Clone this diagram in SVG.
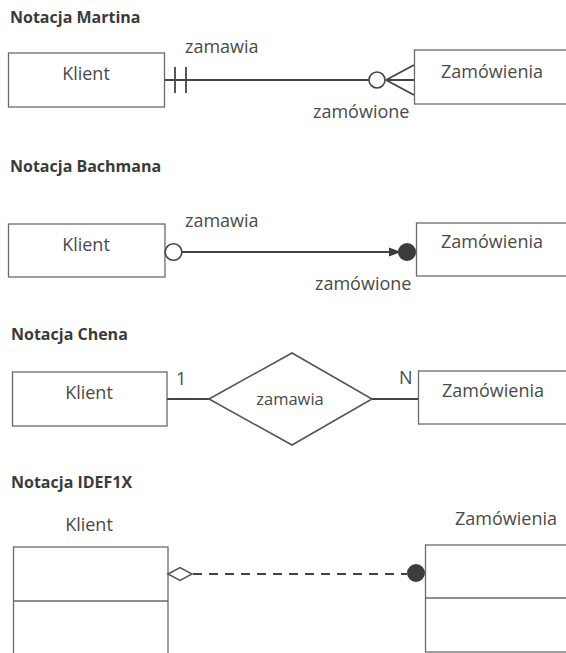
<svg xmlns="http://www.w3.org/2000/svg" width="566" height="653" viewBox="0 0 566 653">
  <style>
    .title { font-family: "Open Sans", "Liberation Sans", sans-serif; font-weight: bold; font-size: 16px; fill: #3a3a3a; }
    .name { font-family: "Open Sans", "Liberation Sans", sans-serif; font-size: 18px; fill: #4a4a4a; }
    .role { font-family: "Open Sans", "Liberation Sans", sans-serif; font-size: 18px; fill: #4a4a4a; }
    .entity { fill: #ffffff; stroke: #6a6a6a; stroke-width: 1.3; }
    .link { fill: none; stroke: #444444; stroke-width: 1.8; }
    .hollow { fill: #ffffff; stroke: #444444; stroke-width: 1.6; }
    .solid { fill: #3c3c3c; stroke: none; }
  </style>
  <rect width="566" height="653" fill="#ffffff"/>

  <!-- Martin notation -->
  <text class="title" x="10" y="23">Notacja Martina</text>
  <g id="martin-klient">
    <rect class="entity" x="8.5" y="53" width="156" height="54"/>
    <text class="name" x="86" y="80" text-anchor="middle">Klient</text>
  </g>
  <g id="martin-zamowienia">
    <rect class="entity" x="414.5" y="50" width="170" height="54"/>
    <text class="name" x="441" y="78">Zamówienia</text>
  </g>

  <!-- Bachman notation -->
  <text class="title" x="10" y="172">Notacja Bachmana</text>
  <g id="bachman-klient">
    <rect class="entity" x="8.5" y="224" width="156.5" height="53"/>
    <text class="name" x="86" y="251" text-anchor="middle">Klient</text>
  </g>
  <g id="bachman-zamowienia">
    <rect class="entity" x="416.5" y="223" width="170" height="53"/>
    <text class="name" x="441" y="248">Zamówienia</text>
  </g>

  <!-- Chen notation -->
  <text class="title" x="11" y="340">Notacja Chena</text>
  <g id="chen-klient">
    <rect class="entity" x="12.5" y="372" width="154.5" height="54"/>
    <text class="name" x="89" y="399" text-anchor="middle">Klient</text>
  </g>
  <g id="chen-zamawia">
    <polygon class="entity" points="209,399 292,353 372,399 292,445" style="stroke:#555555;stroke-width:1.6"/>
    <text class="role" x="290" y="405" text-anchor="middle" style="font-size:16.5px">zamawia</text>
  </g>
  <g id="chen-zamowienia">
    <rect class="entity" x="418.5" y="371" width="170" height="53"/>
    <text class="name" x="442" y="397">Zamówienia</text>
  </g>

  <!-- IDEF1X notation -->
  <text class="title" x="11" y="488">Notacja IDEF1X</text>
  <g id="idef-klient">
    <text class="name" x="89" y="531" text-anchor="middle">Klient</text>
    <rect class="entity" x="13.5" y="547" width="154.5" height="130"/>
    <line class="entity" x1="13.5" y1="601" x2="168" y2="601"/>
  </g>
  <g id="idef-zamowienia">
    <text class="name" x="455" y="525">Zamówienia</text>
    <rect class="entity" x="425.5" y="545" width="170" height="107"/>
    <line class="entity" x1="425.5" y1="598" x2="595" y2="598"/>
  </g>

  <!-- Connectors -->
  <g id="connectors">
    <!-- Martin: one-and-only-one to zero-or-many -->
    <line class="link" x1="165" y1="80" x2="369" y2="80"/>
    <line class="link" x1="175" y1="67" x2="175" y2="93"/>
    <line class="link" x1="186" y1="67" x2="186" y2="93"/>
    <circle class="hollow" cx="377" cy="80" r="8"/>
    <path class="link" d="M386,80 L414,65 M386,80 L414,80 M386,80 L414,95"/>
    <text class="role" x="185" y="53">zamawia</text>
    <text class="role" x="313" y="118">zamówione</text>

    <!-- Bachman: optional to mandatory, arrow toward the many side -->
    <circle class="hollow" cx="173.5" cy="252" r="8.3"/>
    <line class="link" x1="182" y1="252" x2="392" y2="252"/>
    <polygon class="solid" points="389,247.5 401,252 389,256.5"/>
    <circle class="solid" cx="407" cy="252" r="9"/>
    <text class="role" x="185" y="227">zamawia</text>
    <text class="role" x="315" y="290">zamówione</text>

    <!-- Chen: diamond links with cardinalities -->
    <line class="link" x1="167" y1="399" x2="209" y2="399"/>
    <line class="link" x1="372" y1="399" x2="418" y2="399"/>
    <text class="role" x="176" y="385">1</text>
    <text class="role" x="399" y="384">N</text>

    <!-- IDEF1X: non-identifying relationship -->
    <polygon points="168,574 180,567.5 192,574 180,580.5" fill="none" stroke="#555555" stroke-width="1.5"/>
    <line class="link" x1="193" y1="574" x2="407" y2="574" stroke-dasharray="9 7"/>
    <circle class="solid" cx="416" cy="573" r="9"/>
  </g>
</svg>
